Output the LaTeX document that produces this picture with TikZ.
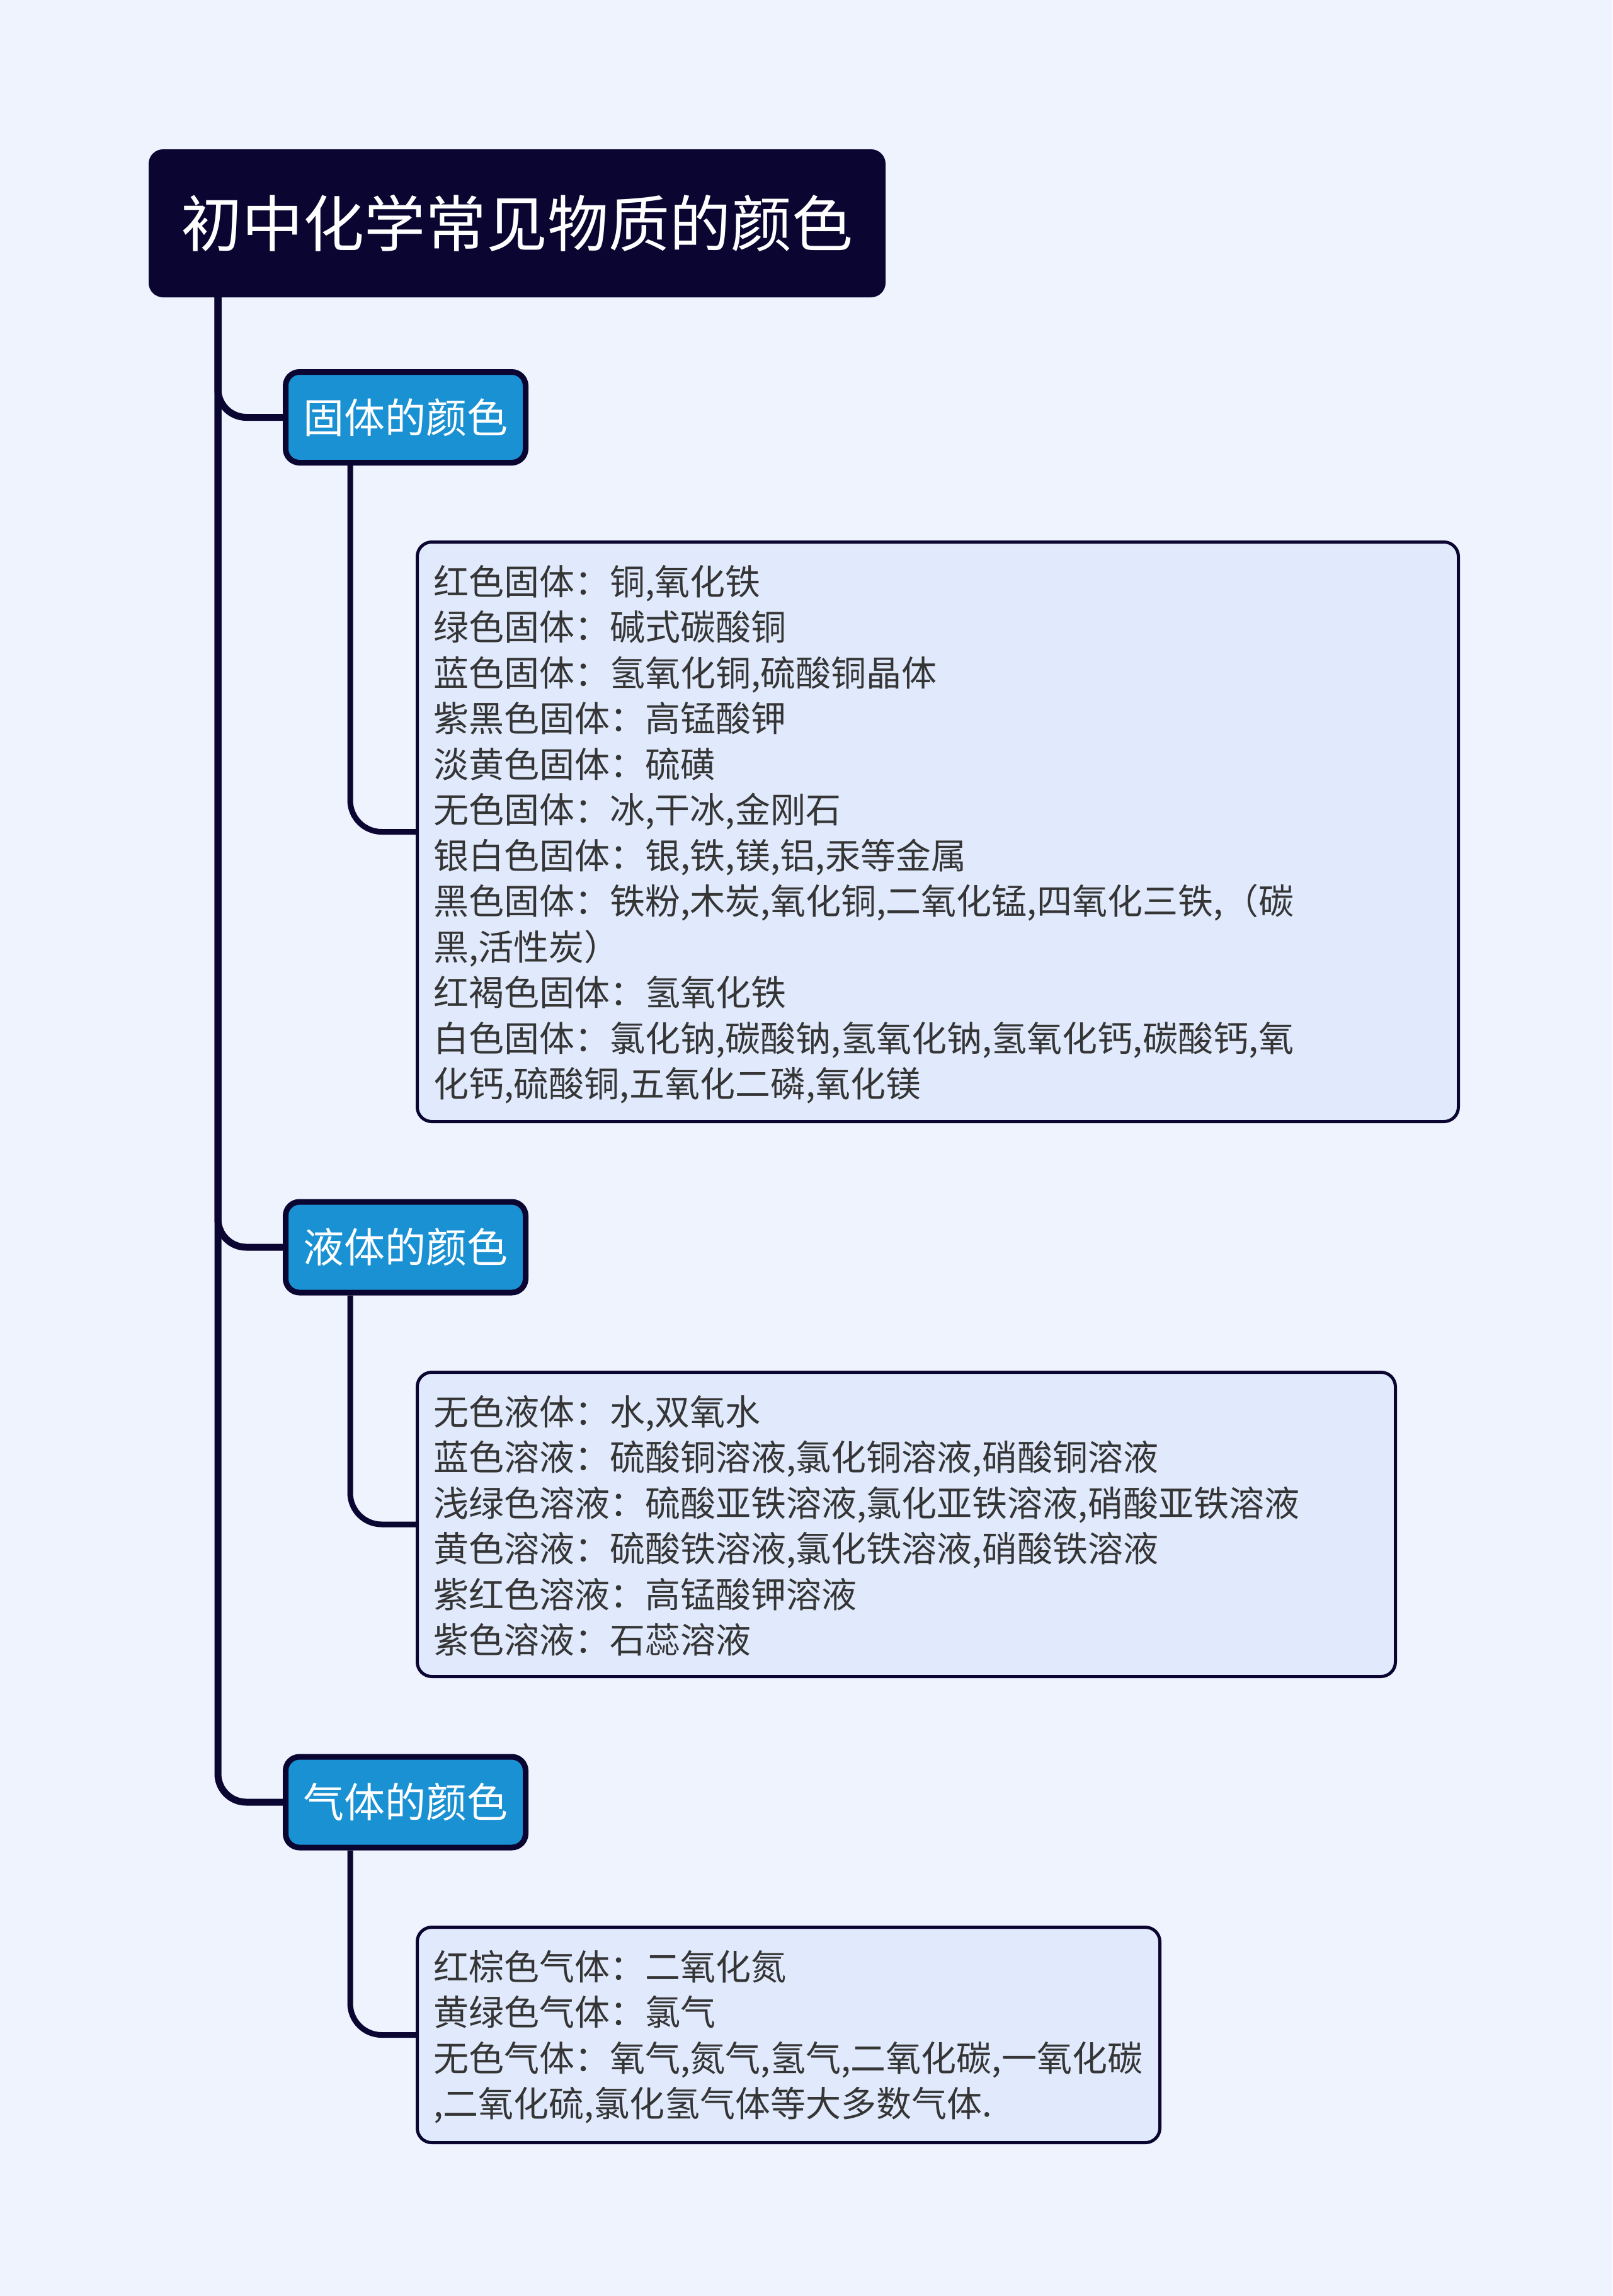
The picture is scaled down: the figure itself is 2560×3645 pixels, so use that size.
\documentclass[tikz,border=0pt]{standalone}
\usepackage{fontspec}
\setmainfont{Noto Sans CJK SC}
\usetikzlibrary{calc}
\pgfdeclarelayer{paper}
\pgfdeclarelayer{links}
\pgfsetlayers{paper,links,main}
\definecolor{bg}{HTML}{EEF3FE}
\definecolor{navy}{HTML}{0B0631}
\definecolor{catblue}{HTML}{1A91D3}
\definecolor{leaffill}{HTML}{E1EAFC}
\definecolor{leafink}{HTML}{353535}
\begin{document}
\begin{tikzpicture}[x=1pt,y=-1pt,
  titlebox/.style={draw=none, fill=navy, rounded corners=23pt, minimum width=1170pt, minimum height=235pt, inner sep=0pt, text=white, font=\fontsize{97}{110}\selectfont},
  catbox/.style={draw=navy, line width=9pt, fill=catblue, rounded corners=22pt, minimum width=381pt, minimum height=144pt, inner sep=0pt, text=white, font=\fontsize{65}{78}\selectfont},
  leafbox/.style={draw=navy, line width=5pt, fill=leaffill, rounded corners=23pt, inner sep=0pt},
  leaftext/.style={anchor=north west, inner sep=0pt, align=left, text=leafink, font=\fontsize{56}{72.5}\selectfont},
  trunk/.style={draw=navy, line width=11pt, rounded corners=45pt},
  twig/.style={draw=navy, line width=9pt, rounded corners=50pt}]
\useasboundingbox (0,0) rectangle (2560,3645);
\begin{pgfonlayer}{paper}
\fill[bg] (0,0) rectangle (2560,3645);
\end{pgfonlayer}

% nodes
\node[titlebox] (title) at (821,354.5) {初中化学常见物质的颜色};
\node[catbox] (cat1) at (644,662.5) {固体的颜色};
\node[catbox] (cat2) at (644,1980) {液体的颜色};
\node[catbox] (cat3) at (644,2861) {气体的颜色};

\node[leafbox, minimum width=1653pt, minimum height=920pt] (leaf1) at (1489,1320.5) {};
\node[leafbox, minimum width=1553pt, minimum height=483pt] (leaf2) at (1439,2420) {};
\node[leafbox, minimum width=1179pt, minimum height=342pt] (leaf3) at (1252,3230.5) {};

% connectors
\coordinate (trunktop) at (346,472);
\coordinate (drop1) at ($(cat1.south west)+(107,0)$);
\coordinate (drop2) at ($(cat2.south west)+(107,0)$);
\coordinate (drop3) at ($(cat3.south west)+(107,0)$);
\begin{pgfonlayer}{links}
\draw[trunk] (trunktop) |- (cat1.west);
\draw[trunk] (trunktop) |- (cat2.west);
\draw[trunk] (trunktop) |- (cat3.west);
\draw[twig] (drop1) |- (leaf1.west);
\draw[twig] (drop2) |- (leaf2.west);
\draw[twig] (drop3) |- (leaf3.west);
\end{pgfonlayer}

% texts
\node[leaftext] (text1) at ($(leaf1.north west)+(28,39)$) {红色固体：铜,氧化铁\\
绿色固体：碱式碳酸铜\\
蓝色固体：氢氧化铜,硫酸铜晶体\\
紫黑色固体：高锰酸钾\\
淡黄色固体：硫磺\\
无色固体：冰,干冰,金刚石\\
银白色固体：银,铁,镁,铝,汞等金属\\
黑色固体：铁粉,木炭,氧化铜,二氧化锰,四氧化三铁,（碳\\
黑,活性炭）\\
红褐色固体：氢氧化铁\\
白色固体：氯化钠,碳酸钠,氢氧化钠,氢氧化钙,碳酸钙,氧\\
化钙,硫酸铜,五氧化二磷,氧化镁};

\node[leaftext] (text2) at ($(leaf2.north west)+(28,39)$) {无色液体：水,双氧水\\
蓝色溶液：硫酸铜溶液,氯化铜溶液,硝酸铜溶液\\
浅绿色溶液：硫酸亚铁溶液,氯化亚铁溶液,硝酸亚铁溶液\\
黄色溶液：硫酸铁溶液,氯化铁溶液,硝酸铁溶液\\
紫红色溶液：高锰酸钾溶液\\
紫色溶液：石蕊溶液};

\node[leaftext] (text3) at ($(leaf3.north west)+(28,39)$) {红棕色气体：二氧化氮\\
黄绿色气体：氯气\\
无色气体：氧气,氮气,氢气,二氧化碳,一氧化碳\\
,二氧化硫,氯化氢气体等大多数气体.};
\end{tikzpicture}
\end{document}
